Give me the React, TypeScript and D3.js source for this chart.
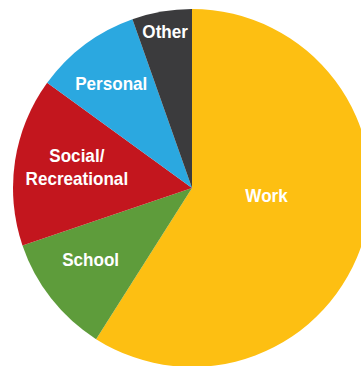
import React from "react";
import * as d3 from "d3";

const categories = ["Work", "School", "Social/Recreational", "Personal", "Other"];
const values = [59, 10.8, 15.2, 9.6, 5.4];
const colors = ["#FDBF12", "#5E9C3B", "#C3161E", "#2BA8E0", "#3B3B3D"];
const labelLines = [["Work"], ["School"], ["Social/", "Recreational"], ["Personal"], ["Other"]];

// label placement (layout, not data): radius from centre and angle nudge (deg)
const labelRadius = [75, 124, 117, 132, 159];
const labelAngleNudge = [-10, 3, 1.5, -1, 0];

const W = 361;
const H = 366;
const cx = 192;
const cy = 188;
const R = 179;

export default function App() {
  const pie = d3.pie<number>().sort(null).value((d) => d)(values);
  const arc = d3.arc<d3.PieArcDatum<number>>().innerRadius(0).outerRadius(R);
  const fs = 18;
  return (
    <svg width={W} height={H} style={{ position: "absolute", left: 0, top: 0, background: "#fff" }}>
      <g transform={`translate(${cx},${cy})`}>
        {pie.map((p, i) => (
          <path key={categories[i]} d={arc(p) || ""} fill={colors[i]} />
        ))}
        {pie.map((p, i) => {
          const mid = (p.startAngle + p.endAngle) / 2 + (labelAngleNudge[i] * Math.PI) / 180;
          const x = Math.sin(mid) * labelRadius[i];
          const y = -Math.cos(mid) * labelRadius[i];
          const lines = labelLines[i];
          const lh = 23;
          return (
            <text
              key={"l" + i}
              transform={`translate(${x},${y}) scale(0.95,1)`}
              textAnchor="middle"
              fill="#fff"
              fontFamily="Liberation Sans, Arial, sans-serif"
              fontWeight="bold"
              fontSize={fs}
            >
              {lines.map((ln, j) => (
                <tspan key={j} x={0} y={(j - (lines.length - 1) / 2) * lh} dy="0.35em">
                  {ln}
                </tspan>
              ))}
            </text>
          );
        })}
      </g>
    </svg>
  );
}
